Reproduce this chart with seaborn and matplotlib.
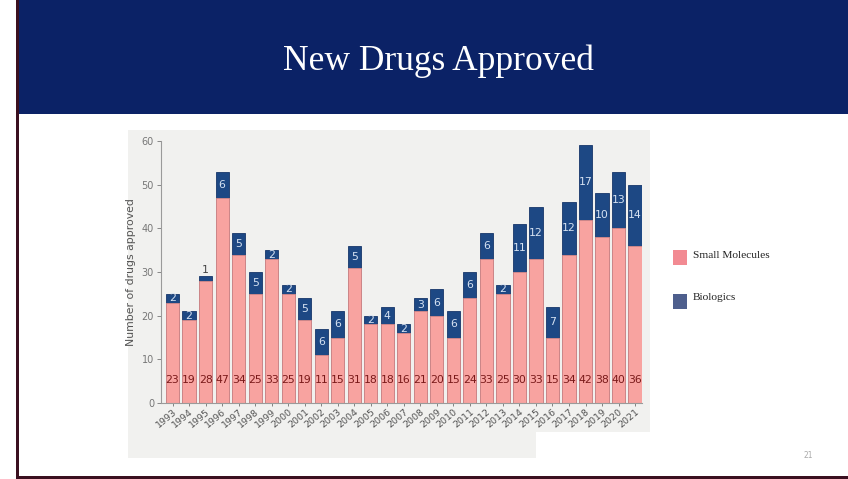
import matplotlib
matplotlib.use("Agg")
import matplotlib.pyplot as plt
from matplotlib.patches import Rectangle
import seaborn as sns
import pandas as pd

years = [str(y) for y in range(1993, 2022)]
small_molecules = [23, 19, 28, 47, 34, 25, 33, 25, 19, 11, 15, 31, 18, 18, 16,
                   21, 20, 15, 24, 33, 25, 30, 33, 15, 34, 42, 38, 40, 36]
biologics = [2, 2, 1, 6, 5, 5, 2, 2, 5, 6, 6, 5, 2, 4, 2,
             3, 6, 6, 6, 6, 2, 11, 12, 7, 12, 17, 10, 13, 14]
y_ticks = [0, 10, 20, 30, 40, 50, 60]
title = "New Drugs Approved"
y_label = "Number of drugs approved"
legend_labels = ["Small Molecules", "Biologics"]
page_number = "21"

df = pd.DataFrame({"year": years, "small": small_molecules, "bio": biologics})
df["total"] = df["small"] + df["bio"]

sns.set_theme(style="white")
plt.rcParams["font.family"] = ["DejaVu Sans"]

W, H = 848, 479
fig = plt.figure(figsize=(W / 100, H / 100), dpi=100)
fig.patch.set_facecolor("white")

def px_rect(x0, y0, x1, y1, **kw):
    fig.add_artist(Rectangle((x0 / W, 1 - y1 / H), (x1 - x0) / W, (y1 - y0) / H,
                             transform=fig.transFigure, **kw))

# slide banner and borders
px_rect(17, 0, 848, 114, facecolor="#0b2266", edgecolor="none", zorder=0)
px_rect(16, 0, 18.5, 478, facecolor="#3b1020", edgecolor="none", zorder=0)
px_rect(16, 476, 848, 478.5, facecolor="#3b1020", edgecolor="none", zorder=0)
fig.text(438 / W, 1 - 61 / H, title, color="white", fontsize=25.5,
         family=["Liberation Serif"], ha="center", va="center")

# chart image background
px_rect(128, 130, 650, 432, facecolor="#f1f1ef", edgecolor="none", zorder=0)
px_rect(128, 430, 536, 458, facecolor="#f1f1ef", edgecolor="none", zorder=0)

ax = fig.add_axes([161 / W, 1 - 403 / H, (642 - 161) / W, (403 - 141) / H])
ax.set_facecolor("#f1f1ef")

pink = "#f8a3a0"
blue = "#1d4884"
sns.barplot(data=df, x="year", y="total", color=blue, width=0.8, saturation=1,
            edgecolor="#16366a", linewidth=0.6, ax=ax)
sns.barplot(data=df, x="year", y="small", color=pink, width=0.8, saturation=1,
            edgecolor="#d88a88", linewidth=0.6, ax=ax)

for i, (s, b) in enumerate(zip(small_molecules, biologics)):
    ax.text(i, 5.3, str(s), ha="center", va="center", fontsize=7.8,
            color="#7a1a1a")
    if b >= 2:
        ax.text(i, s + b / 2, str(b), ha="center", va="center", fontsize=7.8,
                color="#d6e2f2")
    else:
        ax.text(i, s + b + 1.4, str(b), ha="center", va="center", fontsize=7.8,
                color="#444444")

ax.set_xlim(-0.7, len(years) - 0.58)
ax.set_ylim(0, 60)
ax.set_yticks(y_ticks)
ax.set_yticklabels([str(t) for t in y_ticks])
ax.set_xlabel("")
ax.set_ylabel(y_label, fontsize=7.8, color="#555555", labelpad=4)
ax.tick_params(axis="y", labelsize=7, colors="#777777", length=3, width=0.6,
               direction="out", left=True, pad=2)
ax.tick_params(axis="x", labelsize=6.8, colors="#555555", length=2, width=0.5,
               bottom=True, pad=1)
for lab in ax.get_xticklabels():
    lab.set_rotation(40)
    lab.set_ha("right")
    lab.set_rotation_mode("anchor")
for side in ["top", "right"]:
    ax.spines[side].set_visible(False)
for side in ["left", "bottom"]:
    ax.spines[side].set_color("#9a9a9a")
    ax.spines[side].set_linewidth(0.8)

# legend
px_rect(673, 250, 687, 265, facecolor="#f28a92", edgecolor="none")
px_rect(673, 294, 687, 309, facecolor="#4e5f8d", edgecolor="none")
fig.text(693 / W, 1 - 255 / H, legend_labels[0], fontsize=8.2,
         family=["Liberation Serif"], color="#222222", va="center", ha="left")
fig.text(693 / W, 1 - 298 / H, legend_labels[1], fontsize=8.2,
         family=["Liberation Serif"], color="#222222", va="center", ha="left")

fig.text(808 / W, 1 - 455 / H, page_number, fontsize=5.5, color="#aaaaaa",
         ha="center", va="center")

fig.savefig("out.png", dpi=100)
